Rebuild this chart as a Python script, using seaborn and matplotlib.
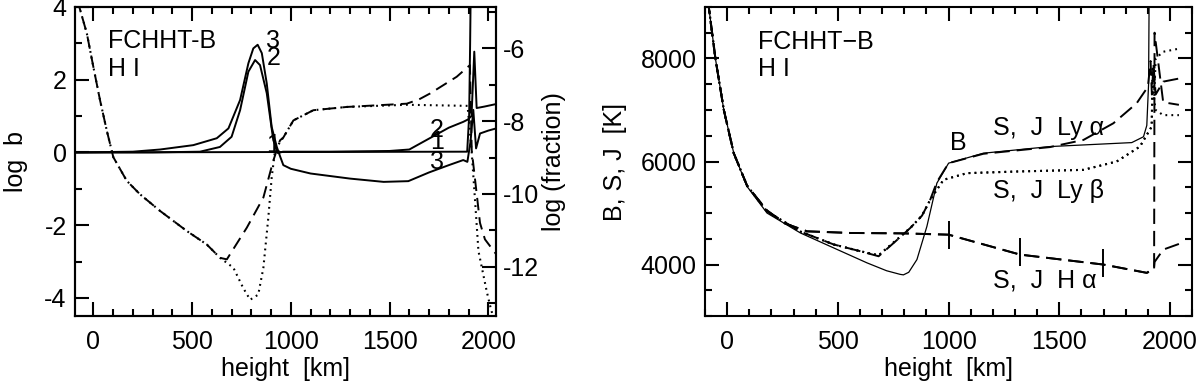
import matplotlib
matplotlib.use("Agg")
import matplotlib.pyplot as plt
from matplotlib.ticker import MultipleLocator
import seaborn as sns

# ---- left panel: departure coefficients (log b) ----
h_b1 = [-93, 1893, 1903, 1908, 1912]
log_b1 = [0.0, 0.02, 1.0, 3.0, 5.0]

h_b2 = [-93, 300, 540, 641, 700, 743, 785, 819, 844, 878, 911, 935, 960, 1200,
        1500, 1600, 1700, 1800, 1873, 1895, 1915, 1929, 1941, 1980, 2040]
log_b2 = [0.0, 0.0, 0.02, 0.15, 0.43, 1.16, 2.22, 2.54, 2.40, 1.63, 0.34, -0.02, 0.02, 0.02,
          0.04, 0.08, 0.38, 0.68, 0.84, 0.9, 1.0, 2.77, 1.22, 1.26, 1.33]

h_b3 = [-93, 200, 338, 506, 625, 684, 743, 785, 810, 832, 853, 878, 903, 929, 945, 962,
        1000, 1100, 1300, 1470, 1595, 1700, 1800, 1873, 1894, 1910, 1924, 1938, 1958, 2000, 2040]
log_b3 = [0.0, 0.02, 0.08, 0.20, 0.39, 0.66, 1.44, 2.45, 2.86, 2.96, 2.73, 1.90, 0.70, 0.15, -0.10, -0.35,
          -0.45, -0.58, -0.72, -0.81, -0.79, -0.55, -0.35, -0.21, -0.26, 0.3, 1.17, 0.11, 0.52, 0.60, 0.66]

# log fraction (right axis), dotted and dashed
h_fd = [-93, -67, -33, 0, 34, 68, 101, 169, 236, 338, 473, 574, 642, 709, 759, 794, 835, 861,
        886, 903, 920, 940, 962, 1013, 1114, 1283, 1587, 1895, 1916, 1933, 1950, 1992, 2008, 2030]
frac_dot = [-4.45, -4.94, -5.59, -6.51, -7.43, -8.26, -8.99, -9.64, -10.01, -10.47, -11.02, -11.39,
            -11.76, -12.03, -12.59, -12.91, -12.77, -12.03, -10.65, -9.55, -8.81, -8.62, -8.45,
            -7.98, -7.70, -7.61, -7.55, -7.58, -8.86, -10.19, -11.57, -12.68, -13.05, -13.5]

h_fa = [-93, -67, -33, 0, 34, 68, 101, 169, 236, 338, 473, 574, 642, 676, 777, 861, 911, 945,
        962, 1013, 1114, 1283, 1587, 1650, 1705, 1840, 1907, 1916, 1958, 1983, 2040]
frac_dash = [-4.45, -4.94, -5.59, -6.51, -7.43, -8.26, -8.99, -9.64, -10.01, -10.47, -11.02, -11.39,
             -11.76, -11.80, -10.93, -10.10, -9.09, -8.53, -8.45, -7.98, -7.70, -7.61, -7.52,
             -7.40, -7.24, -6.78, -6.46, -8.80, -10.80, -11.25, -11.66]

# ---- right panel: B, S, J temperatures ----
h_B = [-100, -83, -53, -15, 30, 90, 180, 331, 481, 632, 720, 781, 796, 820, 857, 902, 947,
       1000, 1157, 1458, 1827, 1880, 1895, 1903, 1906]
T_B = [9500, 9000, 8000, 7000, 6160, 5515, 5000, 4613, 4323, 4032, 3880, 3810, 3800, 3850, 4097,
       4741, 5580, 5968, 6161, 6290, 6367, 6480, 6700, 7500, 9500]

h_lya = [-100, -83, -53, -15, 30, 90, 180, 331, 481, 600, 684, 760, 827, 880, 917, 947, 1000,
         1157, 1458, 1609, 1744, 1849, 1900, 1912, 1918, 1925, 1935, 1969, 2040]
T_lya = [9500, 9000, 8000, 7000, 6160, 5530, 5030, 4640, 4390, 4260, 4161, 4450, 4710, 4950, 5258,
         5600, 5968, 6150, 6280, 6419, 6742, 7129, 7450, 7950, 7300, 7900, 7300, 7550, 7610]

h_lyb = [-100, -83, -53, -15, 30, 90, 180, 331, 481, 600, 684, 760, 827, 880, 917, 977, 1083,
         1308, 1609, 1759, 1864, 1917, 1922, 1928, 1935, 1969, 2040]
T_lyb_s = [9500, 9000, 8000, 7000, 6160, 5530, 5030, 4640, 4390, 4260, 4180, 4460, 4710, 4950, 5258,
           5645, 5774, 5806, 5838, 6000, 6290, 6677, 7800, 7200, 8000, 8130, 8190]
T_lyb_j = [9500, 9000, 8000, 7000, 6160, 5530, 5030, 4640, 4390, 4260, 4180, 4460, 4710, 4950, 5258,
           5645, 5774, 5806, 5838, 6000, 6290, 6677, 7800, 7200, 7000, 6900, 6900]

h_ha = [-100, -83, -53, -15, 30, 90, 180, 260, 361, 557, 800, 1000, 1323, 1699, 1895, 1928,
        1930, 1969, 2040]
T_ha_s = [9500, 9000, 8000, 7000, 6160, 5530, 5050, 4800, 4645, 4613, 4605, 4580, 4193, 4000,
          3839, 3900, 8500, 7150, 7100]
T_ha_j = [9500, 9000, 8000, 7000, 6160, 5530, 5050, 4800, 4645, 4613, 4605, 4580, 4193, 4000,
          3839, 3950, 4050, 4290, 4400]

# tau = 1 marks on the H alpha curve
h_tau = [1000, 1323, 1699]
T_tau = [4565, 4240, 4038]

sns.set_style("ticks")
plt.rcParams["font.family"] = ["Liberation Sans", "DejaVu Sans"]
plt.rcParams.update({
    "font.size": 18,
    "axes.unicode_minus": False,
    "lines.scale_dashes": False,
    "axes.linewidth": 1.5,
    "axes.edgecolor": "black",
    "text.color": "black",
    "axes.labelcolor": "black",
    "xtick.color": "black",
    "ytick.color": "black",
})

DASH = (0, (9, 5))
DOT = (0, (1.3, 3))
LDASH = (0, (11, 5))


def line(ax, x, y, ls="-", lw=1.3):
    sns.lineplot(x=x, y=y, ax=ax, color="black", linestyle=ls, linewidth=lw,
                 estimator=None, sort=False)


def style_ticks(ax, **kw):
    ax.tick_params(which="both", direction="in", width=1.5, **kw)
    ax.tick_params(which="major", length=10)
    ax.tick_params(which="minor", length=5)


fig = plt.figure(figsize=(12, 3.85), dpi=100)
ax = fig.add_axes([0.0625, 0.179, 0.351, 0.803])
ax2 = ax.twinx()
axr = fig.add_axes([0.5875, 0.179, 0.406, 0.803])

# left panel
line(ax, h_b1, log_b1, lw=1.4)
line(ax, h_b2, log_b2, lw=1.4)
line(ax, h_b3, log_b3, lw=1.4)
line(ax2, h_fd, frac_dot, ls=DOT, lw=1.5)
line(ax2, h_fa, frac_dash, ls=DASH, lw=1.4)

ax.set_xlim(-93, 2040)
ax.set_ylim(-4.5, 4)
ax2.set_ylim(-13.36, -4.86)
ax.xaxis.set_major_locator(MultipleLocator(500))
ax.xaxis.set_minor_locator(MultipleLocator(100))
ax.yaxis.set_major_locator(MultipleLocator(2))
ax.yaxis.set_minor_locator(MultipleLocator(1))
ax2.yaxis.set_major_locator(MultipleLocator(2))
ax2.yaxis.set_minor_locator(MultipleLocator(1))
style_ticks(ax, top=True, right=False)
style_ticks(ax2, right=True, left=False)
ax.tick_params(axis="x", pad=10)
ax.tick_params(axis="y", pad=6)
ax2.tick_params(axis="y", pad=5)
ax.set_xlabel("height  [km]", labelpad=2)
ax.set_ylabel("log  b", labelpad=12)
ax2.set_ylabel("log (fraction)", labelpad=2)

ax.text(74, 3.07, "FCHHT-B", va="center")
ax.text(74, 2.29, "H I", va="center")
ax.text(912, 3.05, "3", ha="center", va="center")
ax.text(912, 2.59, "2", ha="center", va="center")
ax.text(910, 0.2, "1", ha="center", va="center")
ax.text(1741, 0.61, "2", ha="center", va="center")
ax.text(1741, 0.28, "1", ha="center", va="center")
ax.text(1741, -0.27, "3", ha="center", va="center")

# right panel
line(axr, h_B, T_B, lw=0.9)
line(axr, h_lya, T_lya, ls=LDASH, lw=1.4)
line(axr, h_lyb, T_lyb_s, ls=DOT, lw=1.5)
line(axr, h_lyb, T_lyb_j, ls=DOT, lw=1.5)
line(axr, h_ha, T_ha_s, ls=LDASH, lw=1.4)
line(axr, h_ha, T_ha_j, ls=LDASH, lw=1.4)
sns.scatterplot(x=h_tau, y=T_tau, ax=axr, marker="|", s=420, color="black", linewidth=1.4)

axr.set_xlim(-100, 2100)
axr.set_ylim(3000, 9000)
axr.xaxis.set_major_locator(MultipleLocator(500))
axr.xaxis.set_minor_locator(MultipleLocator(100))
axr.yaxis.set_major_locator(MultipleLocator(2000))
axr.yaxis.set_minor_locator(MultipleLocator(500))
style_ticks(axr, top=True, right=True)
axr.tick_params(axis="x", pad=10)
axr.tick_params(axis="y", pad=6)
axr.set_xlabel("height  [km]", labelpad=2)
axr.set_ylabel("B, S, J  [K]", labelpad=10)

axr.text(141, 8325, "FCHHT\u2212B", va="center")
axr.text(141, 7793, "H I", va="center")
axr.text(1007, 6351, "B", va="center")
axr.text(1201, 6514, "S,  J  Ly \u03b1", va="baseline")
axr.text(1201, 5290, "S,  J  Ly \u03b2", va="baseline")
axr.text(1201, 3549, "S,  J  H \u03b1", va="baseline")

fig.savefig("out.png", dpi=100)
